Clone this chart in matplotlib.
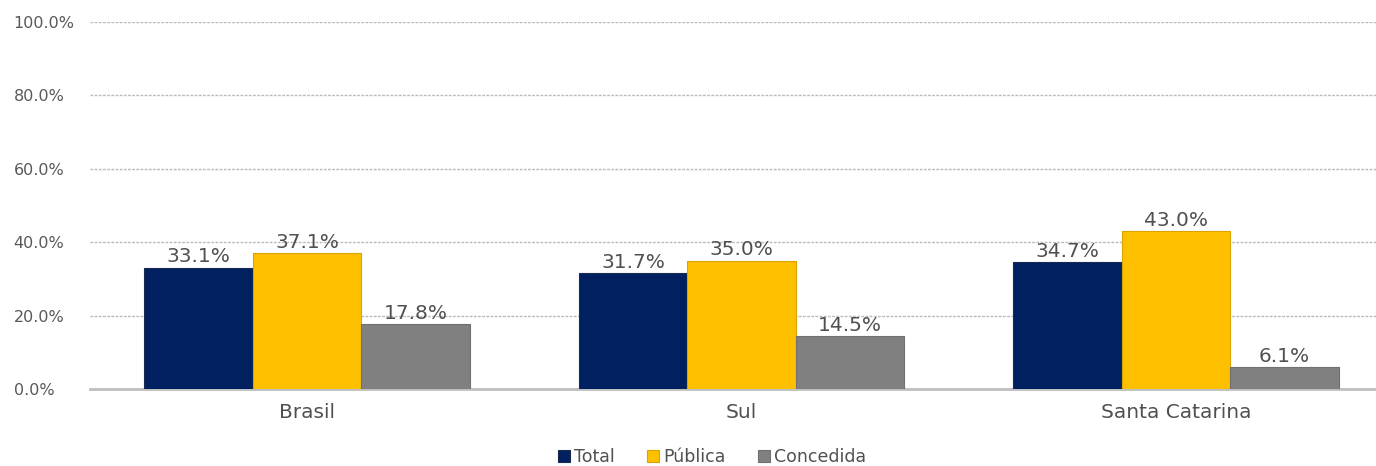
import matplotlib
matplotlib.use("Agg")
import matplotlib.pyplot as plt
import numpy as np

plt.rcParams["font.family"] = ["DejaVu Sans"]

categories = ["Brasil", "Sul", "Santa Catarina"]
series_names = ["Total", "Pública", "Concedida"]
total = [33.1, 31.7, 34.7]
publica = [37.1, 35.0, 43.0]
concedida = [17.8, 14.5, 6.1]
yticks = [0, 20, 40, 60, 80, 100]

colors = ["#002060", "#FFC000", "#808080"]
edge = ["#1a2a50", "#d9a400", "#707070"]

fig = plt.figure(figsize=(13.76, 4.66), dpi=100)
ax = fig.add_axes([90/1376, 77/466, (1393-90)/1376, (444-77)/466])

x = np.arange(len(categories))
w = 0.25
for i, (vals, c, ec, name) in enumerate(zip([total, publica, concedida], colors, edge, series_names)):
    pos = x + (i - 1) * w
    ax.bar(pos, vals, width=w, color=c, edgecolor=ec, linewidth=0.8, label=name, zorder=3)
    for p, v in zip(pos, vals):
        ax.text(p, v + 0.3, f"{v:.1f}%", ha="center", va="bottom", fontsize=14.5,
                color="#505050", zorder=4)

ax.set_xlim(-0.5, 2.5)
ax.set_ylim(0, 100)
ax.set_yticks(yticks)
ax.set_yticklabels([f"{t:.1f}%" for t in yticks])
for lab in ax.get_yticklabels():
    lab.set_ha("left")
ax.tick_params(axis="y", length=0, pad=55, labelsize=11.5, labelcolor="#595959")
ax.set_xticks(x)
ax.set_xticklabels(categories)
ax.tick_params(axis="x", length=0, pad=10, labelsize=14.5, labelcolor="#505050")

ax.yaxis.grid(True, linestyle=(0, (2, 1)), color="#BBBBBB", linewidth=1.0, zorder=0)
ax.xaxis.grid(False)
for s in ["top", "right", "left"]:
    ax.spines[s].set_visible(False)
ax.spines["bottom"].set_color("#BFBFBF")
ax.spines["bottom"].set_linewidth(2)
ax.spines["bottom"].set_zorder(2)

fig.legend(loc="center", bbox_to_anchor=(712/1376, 1 - 457/466), ncol=3, frameon=False,
           handlelength=0.7, handleheight=0.7, handletextpad=0.2, columnspacing=1.9,
           fontsize=12.5, labelcolor="#505050")

fig.savefig("out.png", dpi=100)
